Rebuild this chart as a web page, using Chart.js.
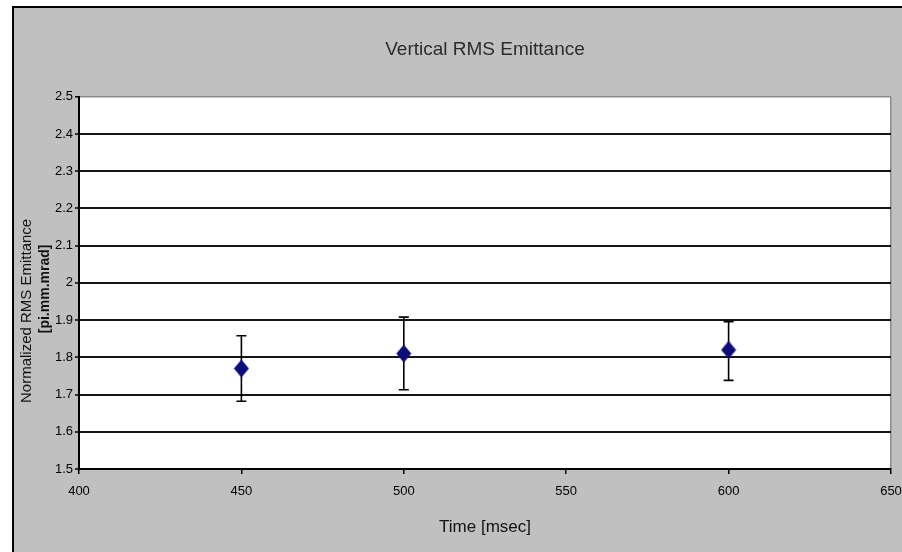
<!DOCTYPE html>
<html>
<head>
<meta charset="utf-8">
<script src="https://cdn.jsdelivr.net/npm/chart.js@4/dist/chart.umd.min.js"></script>
<style>
  html, body { margin: 0; padding: 0; background: #ffffff; }
  #wrap { width: 902px; height: 552px; position: relative; }
</style>
</head>
<body>
<div id="wrap"><canvas id="c" width="902" height="552"></canvas></div>
<script>
// Measured vertical RMS emittance with its error range
const times = [450, 500, 600];
const emittance = [1.77, 1.81, 1.82];
const errUpper = [1.858, 1.908, 1.896];
const errLower = [1.682, 1.713, 1.738];

// Axis tick labels
const xTickLabels = ['400', '450', '500', '550', '600', '650'];
const yTickLabels = ['1.5', '1.6', '1.7', '1.8', '1.9', '2', '2.1', '2.2', '2.3', '2.4', '2.5'];

const FONT = '"Liberation Sans", Arial, sans-serif';

// Navy diamond marker, a little taller than wide
const diamond = document.createElement('canvas');
diamond.width = 16;
diamond.height = 19;
(function () {
  const d = diamond.getContext('2d');
  d.fillStyle = '#0d0d7a';
  d.beginPath();
  d.moveTo(8, 0.5);
  d.lineTo(15.5, 9.5);
  d.lineTo(8, 18.5);
  d.lineTo(0.5, 9.5);
  d.closePath();
  d.fill();
})();

// Gray frame behind the chart and white plot area
const framePlugin = {
  id: 'frame',
  beforeDraw(chart) {
    const { ctx, width, height, chartArea } = chart;
    ctx.save();
    ctx.fillStyle = '#ffffff';
    ctx.fillRect(0, 0, width, height);
    ctx.fillStyle = '#c0c0c0';
    ctx.fillRect(13, 7, width, height);
    ctx.strokeStyle = '#000000';
    ctx.lineWidth = 2;
    ctx.beginPath();
    ctx.moveTo(13, height);
    ctx.lineTo(13, 7);
    ctx.lineTo(width, 7);
    ctx.stroke();
    ctx.fillStyle = '#ffffff';
    ctx.fillRect(chartArea.left, chartArea.top, chartArea.right - chartArea.left, chartArea.bottom - chartArea.top);
    ctx.restore();
  }
};

// Vertical error bars with caps, drawn under the markers
const errorBarPlugin = {
  id: 'errorBars',
  beforeDatasetsDraw(chart) {
    const { ctx, scales } = chart;
    ctx.save();
    ctx.strokeStyle = '#000000';
    ctx.lineWidth = 1.6;
    times.forEach((t, i) => {
      const x = scales.x.getPixelForValue(t);
      const yTop = scales.y.getPixelForValue(errUpper[i]);
      const yBot = scales.y.getPixelForValue(errLower[i]);
      ctx.beginPath();
      ctx.moveTo(x, yTop);
      ctx.lineTo(x, yBot);
      ctx.moveTo(x - 5, yTop);
      ctx.lineTo(x + 5, yTop);
      ctx.moveTo(x - 5, yBot);
      ctx.lineTo(x + 5, yBot);
      ctx.stroke();
    });
    ctx.restore();
  }
};

// Two-line rotated y-axis title
const yTitlePlugin = {
  id: 'yTitle',
  afterDraw(chart) {
    const { ctx, chartArea } = chart;
    const mid = (chartArea.top + chartArea.bottom) / 2;
    ctx.save();
    ctx.fillStyle = '#111111';
    ctx.textAlign = 'center';
    ctx.textBaseline = 'middle';
    ctx.translate(chartArea.left - 52, mid + 28);
    ctx.rotate(-Math.PI / 2);
    ctx.font = '15px ' + FONT;
    ctx.fillText('Normalized RMS Emittance', 0, 0);
    ctx.restore();
    ctx.save();
    ctx.fillStyle = '#111111';
    ctx.textAlign = 'center';
    ctx.textBaseline = 'middle';
    ctx.translate(chartArea.left - 34, mid + 6);
    ctx.rotate(-Math.PI / 2);
    ctx.font = 'bold 14px ' + FONT;
    ctx.fillText('[pi.mm.mrad]', 0, 0);
    ctx.restore();
  }
};

new Chart(document.getElementById('c'), {
  type: 'scatter',
  data: {
    datasets: [{
      label: 'Vertical RMS Emittance',
      data: times.map((t, i) => ({ x: t, y: emittance[i] })),
      pointStyle: diamond,
      pointRadius: 8,
      pointHoverRadius: 8,
      showLine: false
    }]
  },
  options: {
    responsive: false,
    animation: false,
    layout: { padding: { left: 0, right: 11, top: 0, bottom: 0 } },
    plugins: {
      legend: { display: false },
      tooltip: { enabled: false },
      title: {
        display: true,
        text: 'Vertical RMS Emittance',
        fullSize: false,
        color: '#2b2b2b',
        font: { family: FONT, size: 19, weight: 'normal' },
        padding: { top: 38, bottom: 36 }
      }
    },
    scales: {
      x: {
        type: 'linear',
        min: 400,
        max: 650,
        afterFit(scale) {
          scale.height = 83;
          scale.paddingLeft = 0;
          scale.paddingRight = 0;
        },
        ticks: {
          stepSize: 50,
          autoSkip: false,
          maxRotation: 0,
          padding: 10,
          color: '#000000',
          font: { family: FONT, size: 13 },
          callback: (v, i) => xTickLabels[i]
        },
        grid: {
          display: true,
          drawOnChartArea: true,
          color: (ctx) => (ctx.index === xTickLabels.length - 1 ? '#8c8c8c' : 'rgba(0,0,0,0)'),
          lineWidth: 1.5,
          tickColor: '#000000',
          tickLength: 5,
          tickWidth: 1.5
        },
        border: { display: true, color: '#000000', width: 2 },
        title: {
          display: true,
          text: 'Time [msec]',
          color: '#111111',
          font: { family: FONT, size: 17 },
          padding: { top: 0, bottom: 14 }
        }
      },
      y: {
        type: 'linear',
        min: 1.5,
        max: 2.5,
        afterFit(scale) { scale.width = 79; },
        ticks: {
          stepSize: 0.1,
          autoSkip: false,
          padding: 2,
          color: '#000000',
          font: { family: FONT, size: 13 },
          callback: (v, i) => yTickLabels[i]
        },
        grid: {
          color: (ctx) => (ctx.index === yTickLabels.length - 1 ? '#8c8c8c' : '#151515'),
          lineWidth: (ctx) => (ctx.index === yTickLabels.length - 1 ? 1.5 : 2),
          tickColor: '#000000',
          tickLength: 4,
          tickWidth: 1.5
        },
        border: { display: true, color: '#000000', width: 2 },
        title: { display: false }
      }
    }
  },
  plugins: [framePlugin, errorBarPlugin, yTitlePlugin]
});
</script>
</body>
</html>
